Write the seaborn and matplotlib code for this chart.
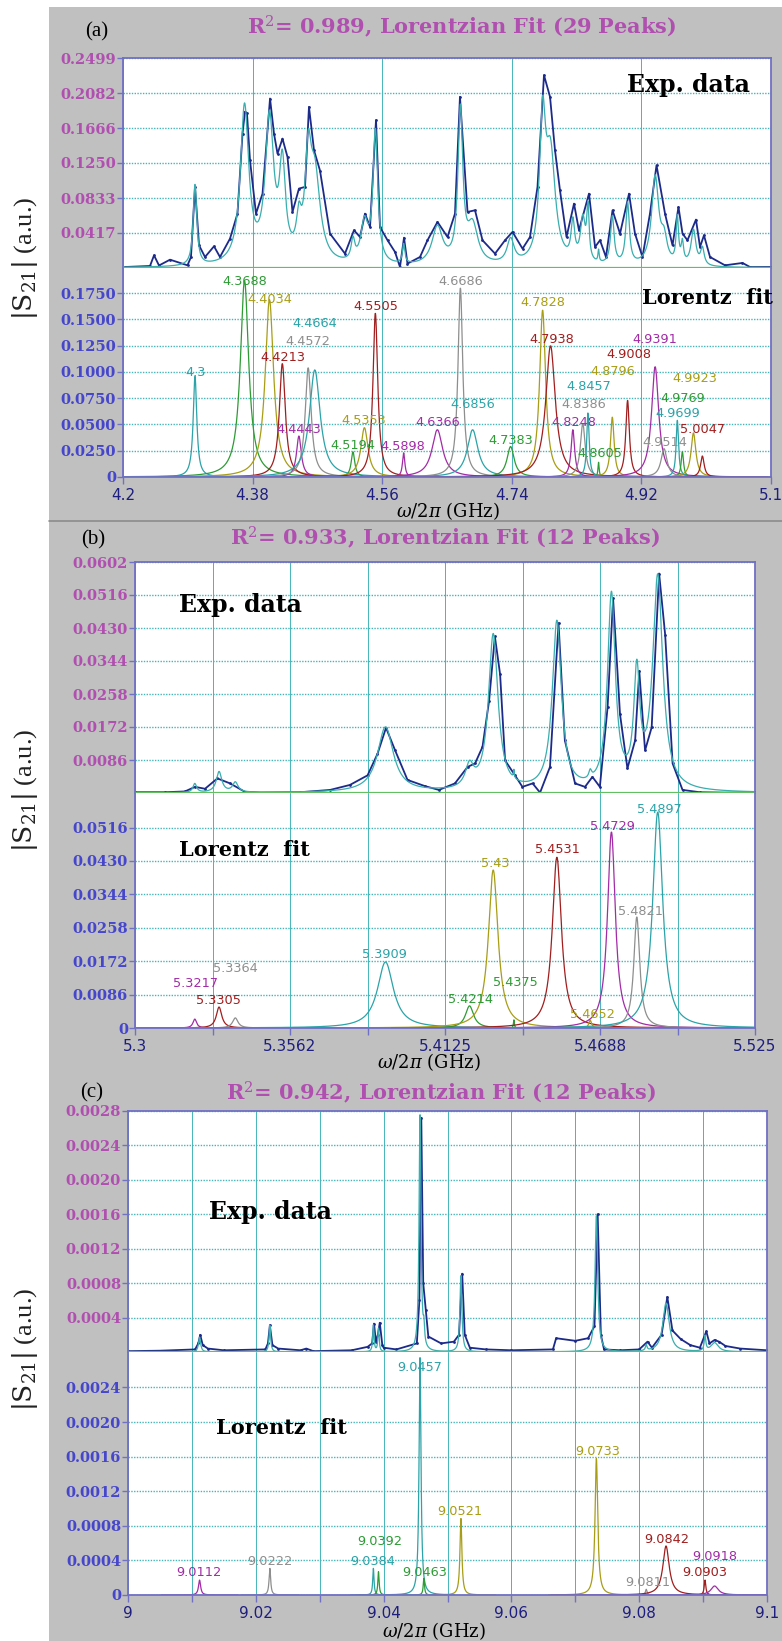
import numpy as np
import pandas as pd
import matplotlib
matplotlib.use("Agg")
import matplotlib.pyplot as plt
from matplotlib.patches import Rectangle
from matplotlib.lines import Line2D
import seaborn as sns

sns.set_style("white")
plt.rcParams["font.family"] = ["Liberation Serif", "DejaVu Serif"]
plt.rcParams["mathtext.fontset"] = "dejavuserif"

W, H = 782, 1641

COLORS = {"teal": "#2ba3a8", "green": "#2e9b35", "olive": "#a89d16",
          "red": "#a01e1e", "purple": "#a22ba6", "grey": "#8e8e8e"}
PINK = "#b04fb0"
BLUE = "#4646cc"
NAVY = "#1e1e80"
SPINE = "#7070c4"
GRIDC = "#45b5b8"
DATA_C = "#1c2a8a"
FIT_C = "#3aaeae"
BASE_C = "#62c062"

# ---------------- panel (a) ----------------
a_names = ["4.3", "4.3688", "4.4034", "4.4213", "4.4443", "4.4572", "4.4664", "4.5194",
           "4.5353", "4.5505", "4.5898", "4.6366", "4.6686", "4.6856", "4.7383", "4.7828",
           "4.7938", "4.8248", "4.8386", "4.8457", "4.8605", "4.8796", "4.9008", "4.9391",
           "4.9514", "4.9699", "4.9769", "4.9923", "5.0047"]
a_height = [0.096, 0.187, 0.169, 0.108, 0.039, 0.104, 0.102, 0.024, 0.047, 0.156, 0.023,
            0.045, 0.180, 0.045, 0.029, 0.159, 0.125, 0.045, 0.051, 0.061, 0.014, 0.057,
            0.073, 0.105, 0.027, 0.054, 0.024, 0.042, 0.020]
a_width = [0.003, 0.007, 0.007, 0.005, 0.004, 0.005, 0.009, 0.003, 0.006, 0.004, 0.002,
           0.009, 0.004, 0.009, 0.006, 0.005, 0.008, 0.003, 0.004, 0.002, 0.001, 0.003,
           0.003, 0.006, 0.005, 0.002, 0.002, 0.004, 0.003]
a_color = ["teal", "green", "olive", "red", "purple", "grey", "teal", "green", "olive", "red",
           "purple", "purple", "grey", "teal", "green", "olive", "red", "purple", "grey", "teal",
           "green", "olive", "red", "purple", "grey", "teal", "green", "olive", "red"]
a_lab_f = [4.3003, 4.3694, 4.4042, 4.4215, 4.4444, 4.4563, 4.4667, 4.5188, 4.5347, 4.5514,
           4.5882, 4.6368, 4.6694, 4.6854, 4.7389, 4.7826, 4.7951, 4.8264, 4.8403, 4.8472,
           4.8625, 4.8799, 4.9028, 4.9389, 4.9528, 4.9701, 4.9771, 4.9944, 5.0049]
a_lab_y = [0.0991, 0.1866, 0.1689, 0.1138, 0.0453, 0.1286, 0.1461, 0.0298, 0.0535, 0.1619,
           0.0288, 0.0516, 0.1866, 0.0694, 0.0345, 0.1657, 0.1309, 0.0516, 0.0694, 0.0859,
           0.0219, 0.1008, 0.1169, 0.1309, 0.0330, 0.0605, 0.0748, 0.0938, 0.0453]
a_exp_f = [4.2028, 4.2375, 4.2431, 4.250, 4.2653, 4.2896, 4.2944, 4.300, 4.3056, 4.3139,
           4.3264, 4.3347, 4.3486, 4.359, 4.366, 4.3694, 4.3722, 4.3764, 4.3847, 4.3938,
           4.4042, 4.4097, 4.4146, 4.4215, 4.4285, 4.4354, 4.4444, 4.4528, 4.4583, 4.4653,
           4.4736, 4.4875, 4.5083, 4.5208, 4.5292, 4.5361, 4.5431, 4.5514, 4.5569, 4.5674,
           4.5778, 4.5847, 4.5903, 4.5951, 4.6125, 4.6229, 4.6368, 4.6507, 4.6611, 4.668,
           4.6785, 4.6889, 4.6993, 4.7167, 4.7306, 4.741, 4.7549, 4.7653, 4.7757, 4.7847,
           4.7931, 4.800, 4.8069, 4.816, 4.8264, 4.8333, 4.8472, 4.8556, 4.8625, 4.8708,
           4.8799, 4.8903, 4.9028, 4.9111, 4.9215, 4.9319, 4.941, 4.9528, 4.9632, 4.9715,
           4.9771, 4.984, 4.9958, 5.0014, 5.0069, 5.0153, 5.0361, 5.0604, 5.0708, 5.1]
a_exp_v = [0.0012, 0.0024, 0.0151, 0.0030, 0.0099, 0.0032, 0.0131, 0.0965, 0.0270, 0.0131,
           0.0258, 0.0131, 0.0349, 0.0647, 0.160, 0.186, 0.184, 0.128, 0.0647, 0.0885,
           0.2017, 0.160, 0.136, 0.154, 0.132, 0.0667, 0.0945, 0.0965, 0.1918, 0.140,
           0.116, 0.0409, 0.0171, 0.0449, 0.0369, 0.0647, 0.0488, 0.176, 0.0488, 0.0330,
           0.0191, 0.0012, 0.0361, 0.0052, 0.0131, 0.0330, 0.0548, 0.0369, 0.0647, 0.2037,
           0.0667, 0.0687, 0.0330, 0.0171, 0.0330, 0.0429, 0.0230, 0.0369, 0.0965, 0.2295,
           0.2037, 0.140, 0.0925, 0.0369, 0.0766, 0.0449, 0.0885, 0.0250, 0.0330, 0.0131,
           0.0687, 0.0409, 0.0885, 0.0409, 0.0131, 0.0647, 0.1223, 0.0647, 0.0270, 0.0726,
           0.0409, 0.0330, 0.0576, 0.0250, 0.0389, 0.0131, 0.0032, 0.0060, 0.0012, 0.0012]
a_xticks = [4.2, 4.38, 4.56, 4.74, 4.92, 5.1]
a_xlabels = ["4.2", "4.38", "4.56", "4.74", "4.92", "5.1"]
a_top_ticks = [0.0417, 0.0833, 0.1250, 0.1666, 0.2082, 0.2499]
a_top_labels = ["0.0417", "0.0833", "0.1250", "0.1666", "0.2082", "0.2499"]
a_bot_ticks = [0, 0.025, 0.05, 0.075, 0.10, 0.125, 0.15, 0.175]
a_bot_labels = ["0", "0.0250", "0.0500", "0.0750", "0.1000", "0.1250", "0.1500", "0.1750"]

# ---------------- panel (b) ----------------
b_names = ["5.3217", "5.3305", "5.3364", "5.3909", "5.4214", "5.43", "5.4375", "5.4531",
           "5.4652", "5.4729", "5.4821", "5.4897"]
b_height = [0.0023, 0.0054, 0.0026, 0.0170, 0.0057, 0.0407, 0.0021, 0.0440, 0.0020,
            0.0505, 0.0286, 0.0556]
b_width = [0.0008, 0.0012, 0.0012, 0.0035, 0.0018, 0.0021, 0.0002, 0.0020, 0.0006,
           0.0017, 0.0013, 0.0022]
b_color = ["purple", "red", "grey", "teal", "green", "olive", "green", "red", "olive",
           "purple", "grey", "teal"]
b_lab_f = [5.3218, 5.3303, 5.3363, 5.3907, 5.4216, 5.4306, 5.4379, 5.4533, 5.4660,
           5.4733, 5.4833, 5.4902]
b_lab_y = [0.0115, 0.0072, 0.0154, 0.0190, 0.0074, 0.0424, 0.0118, 0.0460, 0.0036,
           0.0520, 0.0299, 0.0563]
b_exp_f = [5.3, 5.3109, 5.3181, 5.3218, 5.3254, 5.3299, 5.3345, 5.3399, 5.3454, 5.3599,
           5.3708, 5.378, 5.3844, 5.388, 5.3911, 5.3944, 5.3989, 5.4052, 5.4103, 5.4161,
           5.4207, 5.4234, 5.4261, 5.4285, 5.4306, 5.4325, 5.4343, 5.4379, 5.4406, 5.4443,
           5.447, 5.4506, 5.4537, 5.456, 5.4597, 5.4633, 5.466, 5.4687, 5.4715, 5.4735,
           5.476, 5.4787, 5.4815, 5.483, 5.4851, 5.4875, 5.4902, 5.4924, 5.4951, 5.4987,
           5.505, 5.5141, 5.525]
b_exp_v = [0.0002, 0.0002, 0.0004, 0.0016, 0.0011, 0.0038, 0.0025, 0.0003, 0.0001, 0.0002,
           0.0008, 0.0021, 0.0046, 0.0102, 0.0170, 0.0111, 0.0034, 0.0018, 0.0008, 0.0025,
           0.0068, 0.0077, 0.0120, 0.0240, 0.0408, 0.0309, 0.0085, 0.0046, 0.0016, 0.0025,
           0.0001, 0.0068, 0.0443, 0.0137, 0.0025, 0.0016, 0.0042, 0.0016, 0.0223, 0.0507,
           0.0206, 0.0064, 0.0137, 0.0318, 0.0111, 0.0171, 0.0572, 0.0412, 0.0077, 0.0008,
           0.0002, 0.0001, 0.0002]
b_xticks = [5.3, 5.328125, 5.35625, 5.384375, 5.4125, 5.440625, 5.46875, 5.496875, 5.525]
b_xlabels = ["5.3", "", "5.3562", "", "5.4125", "", "5.4688", "", "5.525"]
b_top_ticks = [0.0086, 0.0172, 0.0258, 0.0344, 0.0430, 0.0516, 0.0602]
b_top_labels = ["0.0086", "0.0172", "0.0258", "0.0344", "0.0430", "0.0516", "0.0602"]
b_bot_ticks = [0, 0.0086, 0.0172, 0.0258, 0.0344, 0.0430, 0.0516]
b_bot_labels = ["0", "0.0086", "0.0172", "0.0258", "0.0344", "0.0430", "0.0516"]

# ---------------- panel (c) ----------------
c_names = ["9.0112", "9.0222", "9.0384", "9.0392", "9.0457", "9.0463", "9.0521", "9.0733",
           "9.0811", "9.0842", "9.0903", "9.0918"]
c_height = [0.000173, 0.000308, 0.000308, 0.000270, 0.00275, 0.000193, 0.000886, 0.00158,
            0.000066, 0.000567, 0.000173, 0.000104]
c_width = [0.00020, 0.00015, 0.00012, 0.00012, 0.00018, 0.00012, 0.00018, 0.00025,
           0.00015, 0.00060, 0.00015, 0.00070]
c_color = ["purple", "grey", "teal", "green", "teal", "green", "olive", "olive", "grey",
           "red", "red", "purple"]
c_lab_f = [9.0111, 9.0222, 9.0383, 9.0394, 9.0457, 9.0465, 9.0520, 9.0735, 9.0813,
           9.0843, 9.0903, 9.0919]
c_lab_y = [0.000258, 0.000393, 0.000393, 0.000624, 0.002628, 0.000262, 0.000971,
           0.001665, 0.000146, 0.000647, 0.000258, 0.000443]
c_exp_f = [9.0, 9.005, 9.0105, 9.0110, 9.0113, 9.0117, 9.0125, 9.015, 9.0215, 9.0219,
           9.0222, 9.0226, 9.0235, 9.027, 9.0279, 9.029, 9.035, 9.0375, 9.0382, 9.0385,
           9.0388, 9.0391, 9.0394, 9.0398, 9.040, 9.042, 9.0452, 9.0456, 9.0459, 9.0462,
           9.0466, 9.047, 9.049, 9.051, 9.0518, 9.0523, 9.0527, 9.0535, 9.056, 9.06, 9.0665,
           9.067, 9.070, 9.072, 9.073, 9.0735, 9.074, 9.0745, 9.077, 9.080, 9.0813, 9.082,
           9.0835, 9.0844, 9.0852, 9.0865, 9.088, 9.0895, 9.0905, 9.091, 9.0918, 9.0925,
           9.0935, 9.0958, 9.1]
c_exp_v = [0.00001, 0.000015, 0.00003, 0.00010, 0.00020, 0.00008, 0.00004, 0.00002,
           0.00003, 0.00010, 0.00031, 0.00008, 0.00004, 0.00002, 0.00004, 0.00001, 0.00002,
           0.00006, 0.00010, 0.00033, 0.00012, 0.00020, 0.00034, 0.00008, 0.00005, 0.00003,
           0.00010, 0.00060, 0.00272, 0.00080, 0.00049, 0.00018, 0.00010, 0.00012, 0.00020,
           0.00091, 0.00020, 0.00005, 0.00003, 0.00002, 0.00003, 0.00016, 0.00013, 0.00016,
           0.00030, 0.00160, 0.00020, 0.00003, 0.00002, 0.00003, 0.00012, 0.00005, 0.00020,
           0.00064, 0.00025, 0.00015, 0.00008, 0.00005, 0.00024, 0.00010, 0.00014, 0.00012,
           0.00007, 0.00004, 0.00002]
c_xticks = [9.0, 9.01, 9.02, 9.03, 9.04, 9.05, 9.06, 9.07, 9.08, 9.09, 9.1]
c_xlabels = ["9", "", "9.02", "", "9.04", "", "9.06", "", "9.08", "", "9.1"]
c_top_ticks = [0.0004, 0.0008, 0.0012, 0.0016, 0.0020, 0.0024, 0.0028]
c_top_labels = ["0.0004", "0.0008", "0.0012", "0.0016", "0.0020", "0.0024", "0.0028"]
c_bot_ticks = [0, 0.0004, 0.0008, 0.0012, 0.0016, 0.0020, 0.0024]
c_bot_labels = ["0", "0.0004", "0.0008", "0.0012", "0.0016", "0.0020", "0.0024"]


def lor(f, f0, h, g):
    return h / (1 + ((f - f0) / g) ** 2)


def px_axes(fig, x0, y0, x1, y1):
    return fig.add_axes([x0 / W, 1 - y1 / H, (x1 - x0) / W, (y1 - y0) / H])


def style_yticks(ax, ticks, labels, color):
    ax.set_yticks(ticks)
    ax.set_yticklabels(labels)
    ax.tick_params(axis="y", direction="out", length=4, width=1, color=SPINE,
                   labelcolor=color, pad=1, left=True)
    for t in ax.get_yticklabels():
        t.set_family("DejaVu Serif")
        t.set_weight("bold")
        t.set_size(10.5)


def draw_panel(fig, box, xlim, xticks, xlabels, top_max, top_ticks, top_labels,
               bot_max, bot_ticks, bot_labels, names, heights, widths, cols,
               lab_f, lab_y, exp_f, exp_v):
    x0, x1, ytop, ymid, ybot = box
    centers = [float(s) for s in names]

    # top: experimental data + total fit
    ax = px_axes(fig, x0, ytop, x1, ymid)
    ax.set_facecolor("white")
    ax.set_xlim(xlim)
    ax.set_ylim(0, top_max)
    ax.set_xticks(xticks)
    ax.set_xticklabels([])
    ax.tick_params(axis="x", length=0)
    style_yticks(ax, top_ticks, top_labels, PINK)
    ax.set_axisbelow(True)
    ax.xaxis.grid(True, color=GRIDC, lw=0.7, ls="-")
    ax.yaxis.grid(True, color=GRIDC, lw=1.0, ls=(0, (1, 1)))
    for s in ["left", "top", "right"]:
        ax.spines[s].set_color(SPINE)
        ax.spines[s].set_linewidth(1.3)
    ax.spines["bottom"].set_visible(False)

    grid = np.linspace(xlim[0], xlim[1], 8000)
    total = np.zeros_like(grid)
    for f0, h, g in zip(centers, heights, widths):
        total += lor(grid, f0, h, g)
    sns.lineplot(x=exp_f, y=exp_v, ax=ax, color=DATA_C, lw=1.3, marker="o",
                 markersize=2.0, markeredgewidth=0, estimator=None, sort=False)
    sns.lineplot(x=grid, y=total, ax=ax, color=FIT_C, lw=0.9, estimator=None, sort=False)
    ax.axhline(0, color=BASE_C, lw=1.6, clip_on=False, zorder=5)
    ax.set_xlabel("")
    ax.set_ylabel("")

    # bottom: individual Lorentzian peaks
    bx = px_axes(fig, x0, ymid, x1, ybot)
    bx.set_facecolor("white")
    bx.set_xlim(xlim)
    bx.set_ylim(0, bot_max)
    style_yticks(bx, bot_ticks, bot_labels, BLUE)
    bx.set_xticks(xticks)
    bx.set_xticklabels(xlabels)
    bx.tick_params(axis="x", direction="out", length=5, width=1, color=SPINE,
                   labelcolor=NAVY, labelsize=11, pad=3, bottom=True)
    for t in bx.get_xticklabels():
        t.set_family("DejaVu Sans")
    bx.set_axisbelow(True)
    bx.xaxis.grid(True, color=GRIDC, lw=0.7, ls="-")
    bx.yaxis.grid(True, color=GRIDC, lw=1.0, ls=(0, (1, 1)))
    for s in ["left", "bottom", "right"]:
        bx.spines[s].set_color(SPINE)
        bx.spines[s].set_linewidth(1.3)
    bx.spines["top"].set_visible(False)

    rows = []
    for name, f0, h, g in zip(names, centers, heights, widths):
        f = np.linspace(max(xlim[0], f0 - 30 * g), min(xlim[1], f0 + 30 * g), 700)
        rows.append(pd.DataFrame({"f": f, "amp": lor(f, f0, h, g), "peak": name}))
    df = pd.concat(rows, ignore_index=True)
    pal = {n: COLORS[c] for n, c in zip(names, cols)}
    sns.lineplot(data=df, x="f", y="amp", hue="peak", palette=pal, ax=bx, lw=0.9,
                 legend=False, estimator=None, sort=False)
    bx.set_xlabel("")
    bx.set_ylabel("")
    for name, c, lf, ly in zip(names, cols, lab_f, lab_y):
        bx.text(lf, ly, name, ha="center", va="center", fontsize=9.3,
                family="DejaVu Sans", color=COLORS[c], zorder=6)
    return ax, bx


fig = plt.figure(figsize=(W / 100, H / 100), dpi=100)
fig.patches.append(Rectangle((49 / W, 0), 1 - 49 / W, 1 - 7 / H, transform=fig.transFigure,
                             facecolor="#c0c0c0", edgecolor="none", zorder=-10))
fig.lines.append(Line2D([49 / W, 1], [1 - 521 / H, 1 - 521 / H], transform=fig.transFigure,
                        color="#8c8c8c", lw=1.2, zorder=-9))

draw_panel(fig, (123, 771, 58, 268, 477), (4.2, 5.1), a_xticks, a_xlabels,
           0.2499, a_top_ticks, a_top_labels, 0.199, a_bot_ticks, a_bot_labels,
           a_names, a_height, a_width, a_color, a_lab_f, a_lab_y, a_exp_f, a_exp_v)
draw_panel(fig, (135, 755, 562, 793, 1028), (5.3, 5.525), b_xticks, b_xlabels,
           0.0602, b_top_ticks, b_top_labels, 0.0605, b_bot_ticks, b_bot_labels,
           b_names, b_height, b_width, b_color, b_lab_f, b_lab_y, b_exp_f, b_exp_v)
draw_panel(fig, (128, 767, 1111, 1352, 1595), (9.0, 9.1), c_xticks, c_xlabels,
           0.0028, c_top_ticks, c_top_labels, 0.00281, c_bot_ticks, c_bot_labels,
           c_names, c_height, c_width, c_color, c_lab_f, c_lab_y, c_exp_f, c_exp_v)


def ftext(x, y, s, **kw):
    fig.text(x / W, 1 - y / H, s, **kw)


titles = ["R$^2$= 0.989, Lorentzian Fit (29 Peaks)",
          "R$^2$= 0.933, Lorentzian Fit (12 Peaks)",
          "R$^2$= 0.942, Lorentzian Fit (12 Peaks)"]
for (tx, ty), s in zip([(462, 27), (445, 538), (441, 1093)], titles):
    ftext(tx, ty, s, ha="center", va="center", fontsize=15, weight="bold",
          family="DejaVu Serif", color=PINK)
for (tx, ty), s in zip([(97, 32), (93, 540), (92, 1093)], ["(a)", "(b)", "(c)"]):
    ftext(tx, ty, s, ha="center", va="center", fontsize=15, family="Liberation Serif",
          color="black")
for (tx, ty) in [(627, 85), (179, 605), (209, 1212)]:
    ftext(tx, ty, "Exp. data", ha="left", va="center", fontsize=17, weight="bold",
          family="DejaVu Serif", color="black")
for (tx, ty) in [(642, 298), (179, 850), (216, 1428)]:
    ftext(tx, ty, "Lorentz  fit", ha="left", va="center", fontsize=15, weight="bold",
          family="DejaVu Serif", color="black")
for ty in [258, 790, 1349]:
    ftext(25, ty, r"$|\mathrm{S}_{21}|$ (a.u.)", ha="center", va="center", rotation=90,
          fontsize=19, color="#222222")
for (tx, ty) in [(448, 511), (429, 1062), (434, 1631)]:
    ftext(tx, ty, r"$\omega/2\pi$ (GHz)", ha="center", va="center", fontsize=13,
          family="DejaVu Serif", color="black")

fig.savefig("out.png", dpi=100)
